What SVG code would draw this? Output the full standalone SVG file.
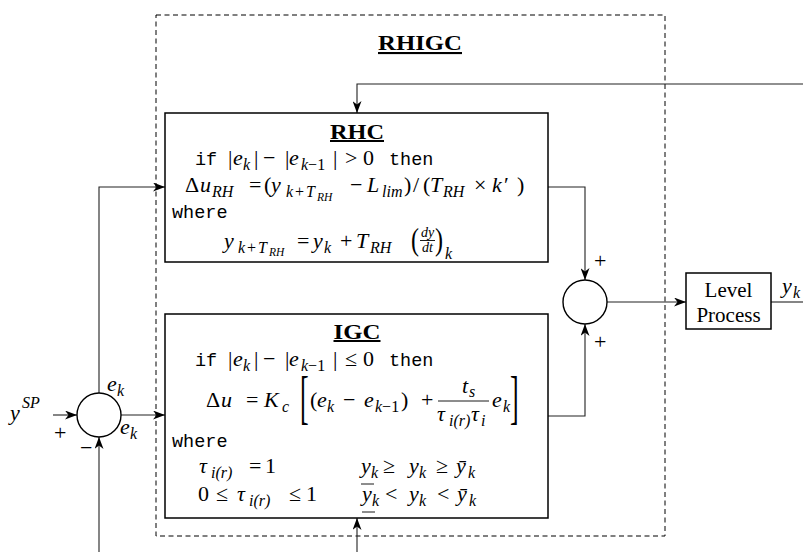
<svg xmlns="http://www.w3.org/2000/svg" width="803" height="552" viewBox="0 0 803 552">
<style>
.box{fill:#fff;stroke:#000;stroke-width:1.5}
.sum{fill:#fff;stroke:#000;stroke-width:1.4}
.ln{fill:none;stroke:#222;stroke-width:1.1}
.dash{fill:none;stroke:#000;stroke-width:1;stroke-dasharray:5 3.5}
.bar{stroke:#000;stroke-width:0.9}
text{fill:#000;font-family:"Liberation Serif",serif;font-size:22px}
.m{font-style:italic}
.tt{font-family:"Liberation Mono",monospace;font-size:18.5px;font-style:normal}
.s{font-size:16px}
.ss{font-size:11.5px}
.f{font-size:14px}
.ttl{font-weight:bold;text-decoration:underline}
.lp{font-size:21px}
</style>
<defs>
<marker id="ah" markerWidth="12" markerHeight="9" refX="12" refY="4.5" orient="auto" markerUnits="userSpaceOnUse">
<path d="M0,0 L12,4.5 L0,9 L3.5,4.5 z" fill="#000"/>
</marker>
</defs>

<g id="rhigc">
<rect class="dash" x="156" y="15" width="509" height="521"/>
<text class="ttl" x="420" y="50" style="font-size:21px" text-anchor="middle" textLength="84" lengthAdjust="spacingAndGlyphs">RHIGC</text>
</g>

<g id="connectors">
<path class="ln" d="M53,415 H77" marker-end="url(#ah)"/>
<path class="ln" d="M99,393 V187 H165" marker-end="url(#ah)"/>
<path class="ln" d="M121,415 H165" marker-end="url(#ah)"/>
<path class="ln" d="M99,552 V437" marker-end="url(#ah)"/>
<path class="ln" d="M357,552 V518" marker-end="url(#ah)"/>
<path class="ln" d="M803,84 H357 V113" marker-end="url(#ah)"/>
<path class="ln" d="M548,187 H585 V280" marker-end="url(#ah)"/>
<path class="ln" d="M548,416 H585 V324" marker-end="url(#ah)"/>
<path class="ln" d="M607,302 H686" marker-end="url(#ah)"/>
<path class="ln" d="M771,302 H803"/>
</g>

<g id="rhc">
<rect class="box" x="165" y="113" width="383" height="149"/>
<text class="ttl" x="357" y="139" style="font-size:20px" text-anchor="middle" textLength="54" lengthAdjust="spacingAndGlyphs">RHC</text>
<text y="165">
<tspan class="tt" x="195">if</tspan>
<tspan x="228">|</tspan><tspan class="m" x="233">e</tspan><tspan class="m s" x="243" y="170">k</tspan><tspan x="254" y="165">|</tspan>
<tspan x="263">−</tspan>
<tspan x="285">|</tspan><tspan class="m" x="289">e</tspan><tspan class="s" x="301" y="170"><tspan class="m">k</tspan>−1</tspan><tspan x="333" y="165">|</tspan>
<tspan x="345">&gt;</tspan>
<tspan x="363">0</tspan>
<tspan class="tt" x="389">then</tspan>
</text>
<text y="192">
<tspan x="185">Δ</tspan><tspan class="m" x="200">u</tspan><tspan class="m s" x="212" y="197">RH</tspan>
<tspan x="249" y="192">=</tspan>
<tspan x="264">(</tspan><tspan class="m" x="271">y</tspan><tspan class="m s" x="286" y="197">k</tspan><tspan class="s" x="295">+</tspan><tspan class="m s" x="306">T</tspan><tspan class="m ss" x="317" y="201">RH</tspan>
<tspan x="350" y="192">−</tspan>
<tspan class="m" x="367">L</tspan><tspan class="m s" x="382" y="197">lim</tspan>
<tspan x="404" y="192">)</tspan><tspan x="413">/</tspan><tspan x="423">(</tspan>
<tspan class="m" x="430">T</tspan><tspan class="m s" x="443" y="197">RH</tspan>
<tspan x="474" y="192">×</tspan>
<tspan class="m" x="492">k</tspan><tspan x="504">′</tspan><tspan x="517">)</tspan>
</text>
<text class="tt" x="172" y="218">where</text>
<text y="248">
<tspan class="m" x="224">y</tspan><tspan class="m s" x="238" y="253">k</tspan><tspan class="s" x="247">+</tspan><tspan class="m s" x="258">T</tspan><tspan class="m ss" x="269" y="256">RH</tspan>
<tspan x="297" y="248">=</tspan>
<tspan class="m" x="313">y</tspan><tspan class="m s" x="324" y="253">k</tspan>
<tspan x="340" y="248">+</tspan>
<tspan class="m" x="356">T</tspan><tspan class="m s" x="370" y="253">RH</tspan>
<tspan class="m s" x="445" y="259">k</tspan>
</text>
<text transform="translate(411,249.5) scale(1,1.3)" style="font-size:24px">(</text>
<text transform="translate(435,249.5) scale(1,1.3)" style="font-size:24px">)</text>
<text class="m f" x="427.5" y="237" text-anchor="middle">dy</text>
<line class="bar" x1="420" y1="240.5" x2="435" y2="240.5"/>
<text class="m f" x="427.5" y="252" text-anchor="middle">dt</text>
</g>

<g id="igc">
<rect class="box" x="165" y="314" width="383" height="204"/>
<text class="ttl" x="357" y="339" style="font-size:20px" text-anchor="middle" textLength="47" lengthAdjust="spacingAndGlyphs">IGC</text>
<text y="366">
<tspan class="tt" x="195">if</tspan>
<tspan x="228">|</tspan><tspan class="m" x="233">e</tspan><tspan class="m s" x="243" y="371">k</tspan><tspan x="254" y="366">|</tspan>
<tspan x="263">−</tspan>
<tspan x="285">|</tspan><tspan class="m" x="289">e</tspan><tspan class="s" x="301" y="371"><tspan class="m">k</tspan>−1</tspan><tspan x="333" y="366">|</tspan>
<tspan x="345">≤</tspan>
<tspan x="363">0</tspan>
<tspan class="tt" x="389">then</tspan>
</text>
<text y="407">
<tspan x="206">Δ</tspan><tspan class="m" x="221">u</tspan>
<tspan x="246">=</tspan>
<tspan class="m" x="264">K</tspan><tspan class="m s" x="282" y="412">c</tspan>
<tspan x="310" y="407">(</tspan><tspan class="m" x="317">e</tspan><tspan class="m s" x="327" y="412">k</tspan>
<tspan x="343" y="407">−</tspan>
<tspan class="m" x="364">e</tspan><tspan class="s" x="375" y="412"><tspan class="m">k</tspan>−1</tspan><tspan x="401" y="407">)</tspan>
<tspan x="421">+</tspan>
<tspan class="m" x="492">e</tspan><tspan class="m s" x="503" y="412">k</tspan>
</text>
<text transform="translate(300,416.5) scale(1,2.3)" style="font-size:26px">[</text>
<text transform="translate(510,416.5) scale(1,2.3)" style="font-size:26px">]</text>
<text y="393"><tspan class="m" x="462">t</tspan><tspan class="m s" x="469" y="397">s</tspan></text>
<line class="bar" x1="438" y1="401" x2="489" y2="401"/>
<text y="421"><tspan class="m" x="437">τ</tspan><tspan class="m s" x="449" y="426">i(r)</tspan><tspan class="m" x="471" y="421">τ</tspan><tspan class="m s" x="481" y="426">i</tspan></text>
<text class="tt" x="172" y="447">where</text>
<text y="473">
<tspan class="m" x="199">τ</tspan><tspan class="m s" x="211" y="478">i(r)</tspan>
<tspan x="249" y="473">=</tspan>
<tspan x="265">1</tspan>
</text>
<text y="501">
<tspan x="198">0</tspan>
<tspan x="216">≤</tspan>
<tspan class="m" x="237">τ</tspan><tspan class="m s" x="249" y="506">i(r)</tspan>
<tspan x="289" y="501">≤</tspan>
<tspan x="306">1</tspan>
</text>
<text y="473">
<tspan class="m" x="361">y</tspan><tspan class="m s" x="371" y="478">k</tspan>
<tspan x="383" y="473">≥</tspan>
<tspan class="m" x="409">y</tspan><tspan class="m s" x="419" y="478">k</tspan>
<tspan x="436" y="473">≥</tspan>
<tspan class="m" x="456">ȳ</tspan><tspan class="m s" x="468" y="478">k</tspan>
</text>
<text y="501">
<tspan class="m" x="362">y</tspan><tspan class="m s" x="372" y="506">k</tspan>
<tspan x="385" y="501">&lt;</tspan>
<tspan class="m" x="409">y</tspan><tspan class="m s" x="419" y="506">k</tspan>
<tspan x="437" y="501">&lt;</tspan>
<tspan class="m" x="457">ȳ</tspan><tspan class="m s" x="469" y="506">k</tspan>
</text>
<line class="bar" x1="361" y1="484" x2="374" y2="484"/>
<line class="bar" x1="362" y1="512" x2="375" y2="512"/>
</g>

<g id="sum1">
<circle class="sum" cx="99" cy="415" r="22"/>
</g>
<g id="sum2">
<circle class="sum" cx="585" cy="302" r="22"/>
</g>

<g id="level">
<rect class="box" x="686" y="273" width="85" height="56"/>
<text class="lp" x="728.5" y="297" text-anchor="middle">Level</text>
<text class="lp" x="728.5" y="322" text-anchor="middle">Process</text>
</g>

<g id="labels">
<text y="420"><tspan class="m" x="10">y</tspan><tspan class="m s" x="22" y="408">SP</tspan></text>
<text x="54" y="440">+</text>
<text x="80" y="455">−</text>
<text y="391"><tspan class="m" x="107">e</tspan><tspan class="m s" x="117" y="396">k</tspan></text>
<text y="434"><tspan class="m" x="120">e</tspan><tspan class="m s" x="130" y="439">k</tspan></text>
<text x="594" y="268">+</text>
<text x="594" y="349">+</text>
<text y="293"><tspan class="m" x="782">y</tspan><tspan class="m s" x="793" y="298">k</tspan></text>
</g>
</svg>
